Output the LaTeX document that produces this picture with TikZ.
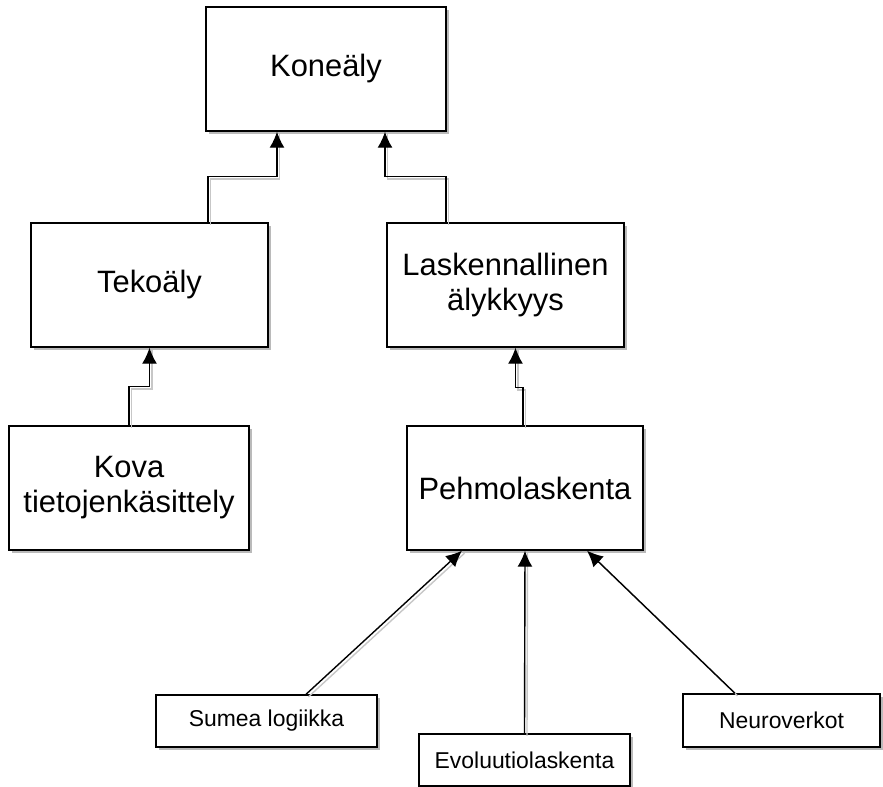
\documentclass[tikz,border=0pt]{standalone}
\usepackage{fontspec}
\setmainfont{Liberation Sans}
\usetikzlibrary{arrows.meta,shadows,positioning}

\begin{document}
\begin{tikzpicture}[
    x=1bp, y=-1bp,
    box/.style={rectangle, draw, fill=white, line width=1.4bp, align=center,
        minimum height=124bp, font=\fontsize{31}{35}\selectfont,
        drop shadow={shadow xshift=3bp, shadow yshift=-3bp, fill=black!45, opacity=0.6}},
    smallbox/.style={box, minimum height=52bp, font=\fontsize{23}{27}\selectfont},
    lineshadow/.style={draw=black!22, line width=1.4bp, transform canvas={shift={(2.5bp,-2.5bp)}}},
    arrow/.style={-{Latex[length=16bp, width=15bp]}, line width=1.4bp}
]
    \useasboundingbox (0,0) rectangle (883,787);

    % Top level
    \node[box, minimum width=240bp] (kone) at (326,69) {Koneäly};

    % Middle level
    \node[box, minimum width=237bp] (teko) at (149.5,285) {Tekoäly};
    \node[box, minimum width=237bp] (lask) at (505.5,285) {Laskennallinen\\älykkyys};

    % Lower level
    \node[box, minimum width=240bp] (kova) at (129,488) {Kova\\tietojenkäsittely};
    \node[box, minimum width=236bp] (pehmo) at (525,488) {Pehmolaskenta};

    % Bottom level
    \node[smallbox, minimum width=221bp] (sumea) at (266.5,721) {Sumea logiikka};
    \node[smallbox, minimum width=211bp] (evol) at (524.5,760) {Evoluutiolaskenta};
    \node[smallbox, minimum width=197bp, minimum height=53bp] (neuro) at (781.5,720.5) {Neuroverkot};

    % Arrows (shadow first, then the line)
    \foreach \s in {lineshadow, arrow} {
        \draw[\s] ([xshift=58.5bp]teko.north) -- ++(0,-46) -| ([xshift=-49bp]kone.south);
        \draw[\s] ([xshift=-59.5bp]lask.north) -- ++(0,-46) -| ([xshift=59bp]kone.south);
        \draw[\s] (kova.north) -- ++(0,-39) -| (teko.south);
        \draw[\s] ([xshift=-2bp]pehmo.north) -- ++(0,-38) -| ([xshift=10bp]lask.south);
        \draw[\s] ([xshift=39.5bp]sumea.north) -- ([xshift=-63bp]pehmo.south);
        \draw[\s] (evol.north) -- (pehmo.south);
        \draw[\s] ([xshift=-46.5bp]neuro.north) -- ([xshift=62bp]pehmo.south);
    }
\end{tikzpicture}
\end{document}
